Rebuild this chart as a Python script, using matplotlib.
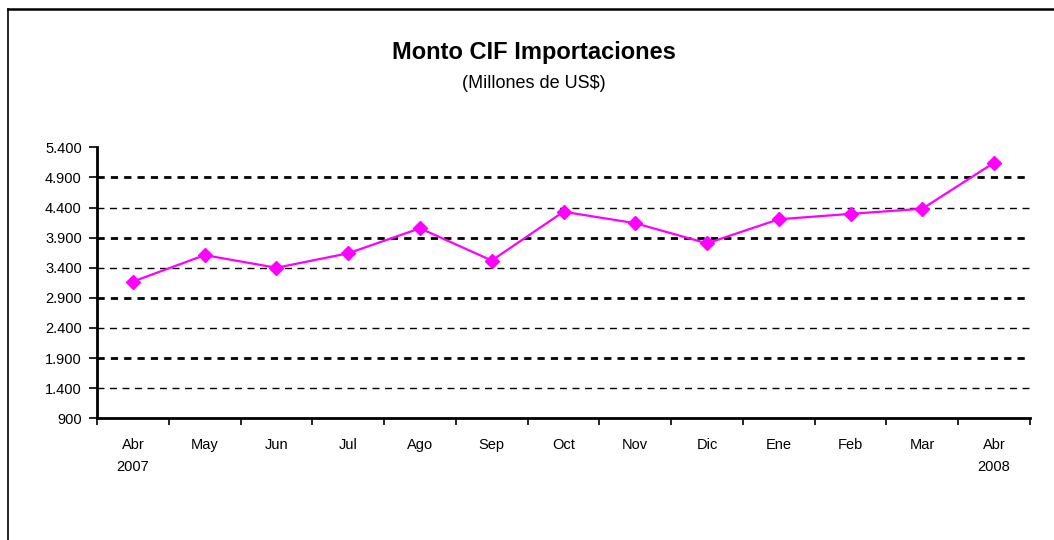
import matplotlib
matplotlib.use("Agg")
import matplotlib.pyplot as plt
from matplotlib.lines import Line2D

months = ["Abr\n2007", "May", "Jun", "Jul", "Ago", "Sep", "Oct", "Nov", "Dic",
          "Ene", "Feb", "Mar", "Abr\n2008"]
values = [3170, 3610, 3400, 3640, 4055, 3520, 4330, 4140, 3805, 4205, 4295, 4380, 5145]
yticks = [900, 1400, 1900, 2400, 2900, 3400, 3900, 4400, 4900, 5400]
ytick_labels = ["900", "1.400", "1.900", "2.400", "2.900", "3.400", "3.900", "4.400", "4.900", "5.400"]
title = "Monto CIF Importaciones"
subtitle = "(Millones de US$)"

plt.rcParams['font.family'] = ['Liberation Sans', 'DejaVu Sans']

W, H = 1054, 540
fig = plt.figure(figsize=(W / 100, H / 100), dpi=100)
fig.patch.set_facecolor("white")

ax = fig.add_axes([97 / W, 1 - 418.3 / H, (1030 - 97) / W, (418.3 - 147.3) / H])
x = list(range(len(months)))
ax.set_xlim(-0.5, len(months) - 0.5)
ax.set_ylim(yticks[0], yticks[-1])

# gridlines: alternating bold / thin dashes
for yv in yticks[1:-1]:
    bold = (yticks.index(yv) % 2 == 0)
    if bold:
        ax.axhline(yv, color="black", lw=2.0, dashes=(2.6, 2.2), zorder=1)
    else:
        ax.axhline(yv, color="black", lw=1.0, dashes=(5, 4), zorder=1)

ax.plot(x, values, color="#FF00FF", lw=1.6, marker="D", markersize=7.5,
        markerfacecolor="#FF00FF", markeredgecolor="#FF00FF", zorder=3, clip_on=False)

ax.set_yticks(yticks)
ax.set_yticklabels(ytick_labels, fontsize=10.5)
ax.set_xticks(x)
ax.set_xticklabels(months, fontsize=10.5, linespacing=1.75)
ax.set_xticks([i - 0.5 for i in range(len(months) + 1)], minor=True)
ax.tick_params(axis="x", which="major", length=0, pad=14)
ax.tick_params(axis="x", which="minor", length=5, width=1.2, direction="out")
ax.tick_params(axis="y", length=6, width=1.2, direction="out", pad=5)

for s in ["top", "right"]:
    ax.spines[s].set_visible(False)
for s in ["left", "bottom"]:
    ax.spines[s].set_linewidth(2.0)
    ax.spines[s].set_color("black")

fig.text(534 / W, 1 - 52 / H, title, ha="center", va="center", fontsize=17, fontweight="bold")
fig.text(534 / W, 1 - 84 / H, subtitle, ha="center", va="center", fontsize=13)

# outer chart frame (top and left edges visible)
fig.add_artist(Line2D([8 / W, 1], [1 - 8.5 / H, 1 - 8.5 / H], color="black", lw=1.8, transform=fig.transFigure))
fig.add_artist(Line2D([8 / W, 8 / W], [0, 1 - 8.5 / H], color="black", lw=1.2, transform=fig.transFigure))

fig.savefig("out.png", dpi=100, facecolor="white")
